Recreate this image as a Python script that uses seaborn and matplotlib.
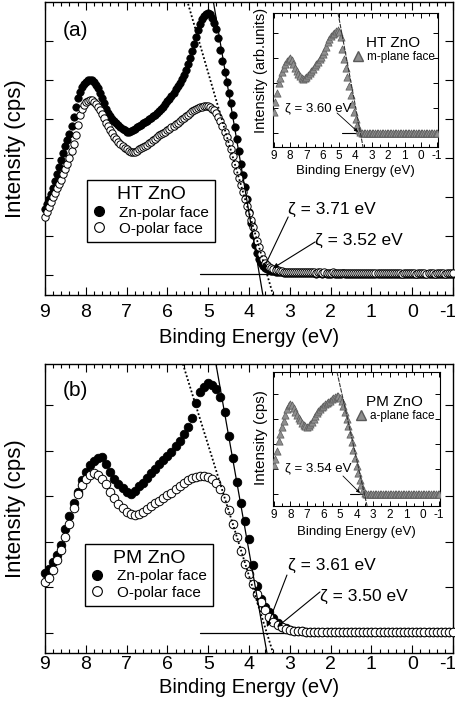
import numpy as np
import pandas as pd
import matplotlib
matplotlib.use("Agg")
import matplotlib.pyplot as plt
import matplotlib.transforms as mtrans
import seaborn as sns
from matplotlib.ticker import MultipleLocator, NullLocator, FixedLocator
from matplotlib.lines import Line2D

# ------------------------------------------------------------------ data
E_START = 9.0          # first binding energy of every scan (eV)
STEP_A = 0.05          # energy step of the panel (a) scans
STEP_B = 0.10          # energy step of the panel (b) scans
STEP_INSET = 0.10      # energy step of the inset scans

# panel (a) HT ZnO, Zn-polar face (arb. units, baseline ~0)
zn_a = [1.70, 1.82, 1.95, 2.09, 2.24, 2.42, 2.60, 2.78, 2.96, 3.14,
        3.30, 3.46, 3.62, 3.82, 4.05, 4.32, 4.55, 4.70, 4.81, 4.89,
        4.95, 4.99, 5.00, 4.99, 4.95, 4.88, 4.79, 4.67, 4.54, 4.40,
        4.27, 4.16, 4.07, 4.00, 3.94, 3.90, 3.85, 3.80, 3.75, 3.71,
        3.68, 3.67, 3.69, 3.72, 3.75, 3.79, 3.83, 3.86, 3.89, 3.92,
        3.95, 3.99, 4.03, 4.07, 4.11, 4.16, 4.21, 4.26, 4.32, 4.38,
        4.45, 4.52, 4.60, 4.68, 4.76, 4.85, 4.93, 5.02, 5.12, 5.25,
        5.40, 5.57, 5.75, 5.93, 6.11, 6.29, 6.44, 6.56, 6.64, 6.70,
        6.72, 6.69, 6.60, 6.47, 6.32, 6.08, 5.78, 5.50, 5.20, 4.95,
        4.68, 4.40, 4.10, 3.79, 3.48, 3.17, 2.86, 2.56, 2.25, 1.94,
        1.63, 1.33, 1.04, 0.78, 0.56, 0.40, 0.30, 0.23, 0.18, 0.15,
        0.13, 0.11, 0.10, 0.09, 0.08, 0.07, 0.07, 0.06, 0.06, 0.06,
        0.06, 0.06, 0.05, 0.06, 0.05, 0.05, 0.06, 0.05, 0.05, 0.05,
        0.05, 0.05, 0.05, 0.04, 0.05, 0.05, 0.04, 0.05, 0.04, 0.04,
        0.04, 0.05, 0.04, 0.04, 0.04, 0.04, 0.05, 0.04, 0.04, 0.04,
        0.04, 0.04, 0.04, 0.03, 0.04, 0.04, 0.04, 0.03, 0.04, 0.04,
        0.03, 0.04, 0.04, 0.03, 0.04, 0.03, 0.04, 0.03, 0.03, 0.04,
        0.03, 0.03, 0.04, 0.03, 0.03, 0.03, 0.04, 0.03, 0.03, 0.03,
        0.03, 0.03, 0.03, 0.04, 0.03, 0.03, 0.03, 0.03, 0.03, 0.03,
        0.03, 0.03, 0.03, 0.03, 0.02, 0.03, 0.03, 0.03, 0.03, 0.03,
        0.03]

# panel (a) HT ZnO, O-polar face
o_a = [1.49, 1.61, 1.74, 1.87, 1.99, 2.10, 2.22, 2.33, 2.45, 2.58,
       2.72, 2.86, 3.01, 3.18, 3.37, 3.60, 3.85, 4.10, 4.26, 4.36,
       4.43, 4.47, 4.49, 4.48, 4.44, 4.38, 4.31, 4.23, 4.13, 4.02,
       3.91, 3.81, 3.72, 3.63, 3.55, 3.48, 3.42, 3.37, 3.32, 3.27,
       3.22, 3.18, 3.16, 3.15, 3.16, 3.19, 3.22, 3.25, 3.28, 3.31,
       3.34, 3.38, 3.42, 3.46, 3.50, 3.54, 3.58, 3.61, 3.65, 3.68,
       3.72, 3.75, 3.79, 3.83, 3.87, 3.91, 3.95, 3.99, 4.03, 4.07,
       4.11, 4.16, 4.21, 4.24, 4.27, 4.29, 4.31, 4.32, 4.33, 4.33,
       4.33, 4.31, 4.27, 4.22, 4.16, 4.06, 3.95, 3.83, 3.68, 3.55,
       3.39, 3.22, 3.04, 2.86, 2.68, 2.50, 2.32, 2.14, 1.96, 1.78,
       1.60, 1.42, 1.24, 1.06, 0.88, 0.71, 0.55, 0.42, 0.32, 0.25,
       0.20, 0.17, 0.15, 0.13, 0.12, 0.11, 0.10, 0.09, 0.09, 0.08,
       0.08, 0.08, 0.08, 0.08, 0.07, 0.08, 0.07, 0.07, 0.07, 0.07,
       0.07, 0.07, 0.07, 0.06, 0.07, 0.07, 0.06, 0.07, 0.06, 0.06,
       0.06, 0.07, 0.06, 0.06, 0.06, 0.06, 0.06, 0.06, 0.06, 0.06,
       0.06, 0.06, 0.05, 0.06, 0.06, 0.06, 0.05, 0.06, 0.06, 0.05,
       0.06, 0.05, 0.06, 0.05, 0.05, 0.06, 0.05, 0.05, 0.05, 0.05,
       0.05, 0.05, 0.05, 0.05, 0.05, 0.04, 0.05, 0.05, 0.05, 0.05,
       0.05, 0.05, 0.04, 0.05, 0.05, 0.05, 0.05, 0.04, 0.05, 0.05,
       0.05, 0.04, 0.05, 0.05, 0.05, 0.05, 0.04, 0.05, 0.05, 0.05,
       0.05]

# panel (b) PM ZnO, Zn-polar face
zn_b = [1.32, 1.41, 1.56, 1.72, 1.92, 2.28, 2.57, 2.85, 3.10, 3.35,
        3.52, 3.68, 3.78, 3.84, 3.85, 3.70, 3.52, 3.38, 3.27, 3.18,
        3.10, 3.05, 3.12, 3.22, 3.30, 3.40, 3.50, 3.60, 3.70, 3.80,
        3.88, 3.98, 4.10, 4.22, 4.36, 4.52, 4.72, 5.05, 5.28, 5.40,
        5.48, 5.45, 5.36, 5.18, 4.84, 4.33, 3.83, 3.32, 2.85, 2.45,
        2.05, 1.50, 1.02, 0.75, 0.58, 0.45, 0.33, 0.22, 0.14, 0.10,
        0.07, 0.05, 0.04, 0.04, 0.03, 0.03, 0.03, 0.03, 0.03, 0.03,
        0.03, 0.03, 0.02, 0.03, 0.03, 0.03, 0.02, 0.03, 0.03, 0.03,
        0.03, 0.02, 0.03, 0.03, 0.02, 0.03, 0.03, 0.02, 0.03, 0.03,
        0.03, 0.02, 0.03, 0.03, 0.03, 0.02, 0.03, 0.03, 0.02, 0.03,
        0.03]

# panel (b) PM ZnO, O-polar face
o_b = [1.12, 1.21, 1.38, 1.60, 1.82, 2.10, 2.39, 2.75, 3.05, 3.25,
       3.38, 3.46, 3.50, 3.47, 3.38, 3.27, 3.10, 2.95, 2.82, 2.74,
       2.65, 2.60, 2.59, 2.62, 2.66, 2.72, 2.78, 2.84, 2.90, 2.96,
       3.02, 3.08, 3.15, 3.22, 3.30, 3.36, 3.40, 3.42, 3.44, 3.44,
       3.43, 3.38, 3.28, 3.16, 2.97, 2.70, 2.40, 2.10, 1.80, 1.52,
       1.30, 1.08, 0.86, 0.68, 0.50, 0.36, 0.25, 0.17, 0.12, 0.09,
       0.07, 0.05, 0.04, 0.04, 0.03, 0.03, 0.03, 0.03, 0.03, 0.03,
       0.03, 0.03, 0.03, 0.03, 0.03, 0.03, 0.03, 0.03, 0.03, 0.03,
       0.03, 0.03, 0.03, 0.03, 0.03, 0.03, 0.03, 0.03, 0.03, 0.03,
       0.03, 0.03, 0.03, 0.03, 0.03, 0.03, 0.03, 0.03, 0.03, 0.03,
       0.03]

# inset (a) HT ZnO m-plane face
ins_a = [2.1, 3.1, 4.0, 5.0, 5.5, 6.1, 6.5, 6.9, 7.2, 7.4,
         7.5, 7.3, 6.9, 6.5, 6.2, 5.9, 5.7, 5.5, 5.45, 5.5,
         5.65, 5.8, 6.0, 6.2, 6.4, 6.7, 6.9, 7.1, 7.4, 7.6,
         7.9, 8.2, 8.6, 9.1, 9.4, 9.7, 9.9, 10.0, 10.2, 10.3,
         10.1, 9.6, 8.4, 7.4, 6.5, 5.6, 4.7, 3.8, 2.9, 2.1,
         1.4, 0.8, 0.35, 0.1, 0.03, 0.0, 0.01, 0.0, 0.01, 0.0,
         0.0, 0.01, 0.0, 0.0, -0.01, 0.0, 0.0, 0.01, 0.0, 0.0,
         0.0, 0.0, 0.01, 0.0, 0.0, 0.0, -0.01, 0.0, 0.0, 0.0,
         0.0, 0.0, 0.0, 0.01, 0.0, 0.0, 0.0, 0.0, -0.01, 0.0,
         0.0, 0.0, 0.0, 0.0, 0.0, 0.01, 0.0, 0.0, 0.0, 0.0,
         0.0]

# inset (b) PM ZnO a-plane face
ins_b = [2.9, 3.5, 4.3, 5.3, 6.0, 6.7, 7.3, 7.9, 8.5, 8.9,
         9.0, 8.9, 8.6, 8.2, 7.9, 7.6, 7.4, 7.1, 6.9, 6.8,
         6.75, 6.8, 7.0, 7.2, 7.5, 7.8, 8.1, 8.3, 8.5, 8.7,
         8.85, 9.0, 9.1, 9.2, 9.35, 9.5, 9.6, 9.75, 9.85, 9.8,
         9.65, 9.3, 8.8, 8.2, 7.5, 6.8, 6.0, 5.2, 4.4, 3.6,
         2.8, 2.1, 1.4, 0.9, 0.45, 0.15, 0.05, 0.0, 0.0, 0.0,
         0.0, 0.01, 0.0, 0.0, 0.0, 0.0, 0.01, 0.0, 0.0, 0.0,
         0.0, 0.0, 0.0, 0.0, 0.01, 0.0, 0.0, 0.0, 0.0, 0.0,
         0.0, 0.0, 0.01, 0.0, 0.0, 0.0, 0.0, 0.0, 0.0, 0.01,
         0.0, 0.0, 0.0, 0.0, 0.0, 0.0, 0.0, 0.01, 0.0, 0.0,
         0.0]

# linear extrapolations (energy, intensity end points)
fit_a_zn = ([4.88, 3.66], [7.05, -0.51])
fit_a_o = ([5.52, 3.41], [7.05, -0.51])
base_a = ([5.20, -1.0], [0.03, 0.03])
fit_b_zn = ([4.81, 3.56], [5.90, -0.44])
fit_b_o = ([5.62, 3.41], [5.90, -0.44])
base_b = ([5.20, -1.0], [0.0, 0.0])
fit_ia = ([5.07, 3.54], [12.0, -1.4])
base_ia = ([4.83, -1.05], [0.0, 0.0])
fit_ib = ([5.18, 3.36], [12.2, -1.2])
base_ib = ([4.39, -1.05], [0.0, 0.0])

xtick_vals = [9, 8, 7, 6, 5, 4, 3, 2, 1, 0, -1]

# ------------------------------------------------------------------ style
sns.set_theme(style="ticks")
plt.rcParams["font.family"] = ["Liberation Sans", "DejaVu Sans"]
plt.rcParams["axes.unicode_minus"] = False
plt.rcParams["axes.edgecolor"] = "black"
plt.rcParams["xtick.color"] = "black"
plt.rcParams["ytick.color"] = "black"
plt.rcParams["text.color"] = "black"
plt.rcParams["axes.labelcolor"] = "black"

W, H = 456, 712
fig = plt.figure(figsize=(W / 100, H / 100), dpi=100)
fig.patch.set_facecolor("white")


def frac(l, t, r, b):
    return [l / W, 1 - b / H, (r - l) / W, (b - t) / H]


def scan_df(vals, step):
    e = np.round(E_START - step * np.arange(len(vals)), 3)
    return pd.DataFrame({"E": e, "I": vals})


def main_panel(rect, zn, o, step, msize, fz, fo, base, ylim, yt, tag,
               title, ann, leg_anchor, tickpad, xlab_y):
    ax = fig.add_axes(rect)
    sns.scatterplot(data=scan_df(zn, step), x="E", y="I", ax=ax, marker="o",
                    s=msize, color="black", edgecolor="black",
                    linewidth=0.6, zorder=3, clip_on=False)
    sns.scatterplot(data=scan_df(o, step), x="E", y="I", ax=ax, marker="o",
                    s=msize, color="white", edgecolor="black",
                    linewidth=0.7, zorder=4, clip_on=False)
    ax.plot(fz[0], fz[1], color="black", lw=0.9, zorder=5)
    ax.plot(fo[0], fo[1], color="black", lw=1.3, ls=(0, (1, 1.2)), zorder=5)
    ax.plot(base[0], base[1], color="black", lw=0.9, zorder=2)
    ax.set_xlim(9, -1)
    ax.set_ylim(*ylim)
    ax.xaxis.set_major_locator(FixedLocator(xtick_vals))
    ax.xaxis.set_minor_locator(MultipleLocator(0.2))
    ax.yaxis.set_major_locator(FixedLocator(yt))
    ax.yaxis.set_minor_locator(NullLocator())
    ax.set_xticklabels([str(v) for v in xtick_vals])
    ax.tick_params(which="both", direction="in", top=True, right=True,
                   labelleft=False, width=0.8)
    ax.tick_params(which="major", length=6)
    ax.tick_params(which="minor", length=3)
    ax.tick_params(axis="x", which="major", labelsize=14, pad=tickpad)
    # the last label ("-1") sits on the right edge: nudge it inside
    last = ax.xaxis.get_major_ticks()[-1].label1
    last.set_transform(last.get_transform() +
                       mtrans.ScaledTranslation(-5 / 100, 0,
                                                fig.dpi_scale_trans))
    for s in ax.spines.values():
        s.set_linewidth(1.0)
        s.set_color("black")
    ax.set_xlabel("Binding Energy (eV)", fontsize=14.5)
    ax.xaxis.set_label_coords(0.5, xlab_y)
    ax.xaxis.label.set_va("top")
    ax.set_ylabel("Intensity (cps)", fontsize=16)
    ax.yaxis.set_label_coords(-0.047, 0.5)
    ax.text(0.044, tag[1], tag[0], transform=ax.transAxes, fontsize=15,
            ha="left", va="center")
    handles = [Line2D([], [], marker="o", ls="", mfc="black", mec="black",
                      ms=7),
               Line2D([], [], marker="o", ls="", mfc="white", mec="black",
                      ms=7, mew=0.8)]
    leg = ax.legend(handles, ["Zn-polar face", "O-polar face"], title=title,
                    loc="upper left", bbox_to_anchor=leg_anchor,
                    frameon=True, fancybox=False, edgecolor="black",
                    framealpha=1, fontsize=11, title_fontsize=14,
                    borderpad=0.4, handletextpad=0.9, labelspacing=0.15,
                    handlelength=0.8, borderaxespad=0, markerscale=1.0)
    leg.get_frame().set_linewidth(1.0)
    for txt, tx, ty, sx, sy, hx, hy in ann:
        ax.text(tx, ty, txt, fontsize=12.5, ha="left", va="center", zorder=6)
        ax.annotate("", xy=(hx, hy), xytext=(sx, sy),
                    arrowprops=dict(arrowstyle="-|>", color="black", lw=0.8,
                                    mutation_scale=7, shrinkA=0, shrinkB=0),
                    zorder=6)
    sns.despine(ax=ax, top=False, right=False)
    return ax


def inset_panel(rect, vals, fit, base, ylim, ylab, ylab_fs, ylab_y, title,
                lab, ann, xlab_y):
    ax = fig.add_axes(rect)
    ax.set_facecolor("white")
    sns.scatterplot(data=scan_df(vals, STEP_INSET), x="E", y="I", ax=ax,
                    marker="^", s=27, color="#8f8f8f", edgecolor="#5a5a5a",
                    linewidth=0.5, zorder=3)
    ax.plot(fit[0], fit[1], color="#333333", lw=0.8, ls=(0, (4, 1)), zorder=4)
    ax.plot(base[0], base[1], color="black", lw=0.8, zorder=2)
    ax.set_xlim(9.05, -1.05)
    ax.set_ylim(*ylim)
    ax.xaxis.set_major_locator(FixedLocator(xtick_vals))
    ax.xaxis.set_minor_locator(MultipleLocator(0.5))
    ax.yaxis.set_major_locator(MultipleLocator(2.5))
    ax.yaxis.set_minor_locator(NullLocator())
    ax.set_xticklabels([str(v) for v in xtick_vals])
    ax.tick_params(which="both", direction="in", top=True, right=True,
                   labelleft=False, width=0.7)
    ax.tick_params(which="major", length=3.5)
    ax.tick_params(which="minor", length=2)
    ax.tick_params(axis="x", labelsize=8.5, pad=2)
    for s in ax.spines.values():
        s.set_linewidth(0.8)
        s.set_color("black")
    ax.set_xlabel("Binding Energy (eV)", fontsize=9.5)
    ax.xaxis.set_label_coords(0.5, xlab_y)
    ax.xaxis.label.set_va("top")
    ax.set_ylabel(ylab, fontsize=ylab_fs)
    ax.yaxis.set_label_coords(-0.03, ylab_y)
    handles = [Line2D([], [], marker="^", ls="", mfc="#8f8f8f",
                      mec="#5a5a5a", ms=6.5)]
    ax.legend(handles, [lab], title=title, loc="center",
              bbox_to_anchor=(0.73, 0.73), frameon=False, fontsize=8.5,
              title_fontsize=11, handletextpad=0.2, handlelength=1.0,
              borderpad=0, labelspacing=0.1)
    txt, tx, ty, sx, sy, hx, hy = ann
    ax.text(tx, ty, txt, transform=ax.transAxes, fontsize=9.5, ha="left",
            va="center")
    ax.annotate("", xy=(hx, hy), xytext=(sx, sy), xycoords="axes fraction",
                textcoords="axes fraction",
                arrowprops=dict(arrowstyle="-|>", color="black", lw=0.6,
                                mutation_scale=5, shrinkA=0, shrinkB=0))
    return ax


# panel (a)
main_panel(frac(45, 2, 453, 295), zn_a, o_a, STEP_A, 28, fit_a_zn, fit_a_o,
           base_a, (-0.51, 7.0), [0, 1, 2, 3, 4, 5, 6], ("(a)", 0.904),
           "HT ZnO",
           [("\u03b6 = 3.71 eV", 3.04, 1.67, 3.04, 1.49, 3.66, 0.13),
            ("\u03b6 = 3.52 eV", 2.38, 0.90, 2.38, 0.85, 3.41, 0.18)],
           (0.103, 0.392), 6.5, -0.112)

# panel (b)
main_panel(frac(45, 364, 453, 653), zn_b, o_b, STEP_B, 38, fit_b_zn, fit_b_o,
           base_b, (-0.44, 5.9), [0, 1, 2, 3, 4, 5], ("(b)", 0.91),
           "PM ZnO",
           [("\u03b6 = 3.61 eV", 3.04, 1.49, 3.07, 1.27, 3.56, 0.13),
            ("\u03b6 = 3.50 eV", 2.26, 0.79, 2.26, 0.90, 3.31, 0.13)],
           (0.098, 0.377), 2.5, -0.088)

# inset (a)
inset_panel(frac(273, 13, 438, 147), ins_a, fit_ia, base_ia, (-1.4, 12.0),
            "Intensity (arb.units)", 10.5, 0.57, "HT ZnO", "m-plane face",
            ("\u03b6 = 3.60 eV", 0.073, 0.291, 0.388, 0.254, 0.515, 0.112),
            -0.134)

# inset (b)
inset_panel(frac(273, 372, 440, 506), ins_b, fit_ib, base_ib, (-1.2, 12.2),
            "Intensity (cps)", 11, 0.507, "PM ZnO", "a-plane face",
            ("\u03b6 = 3.54 eV", 0.072, 0.284, 0.419, 0.224, 0.521, 0.097),
            -0.149)

fig.savefig("out.png", dpi=100, facecolor="white")
